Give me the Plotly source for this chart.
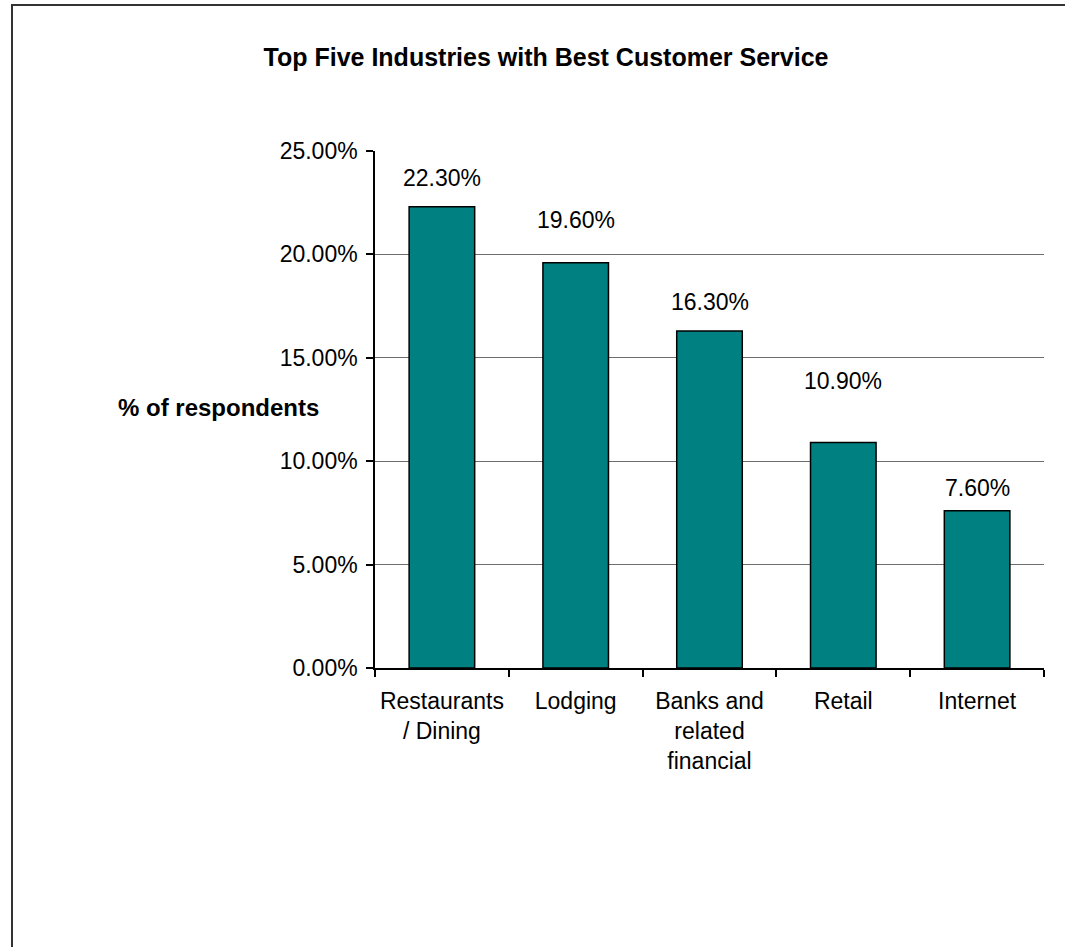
import plotly.graph_objects as go

categories = ["Restaurants<br>/ Dining", "Lodging", "Banks and<br>related<br>financial", "Retail", "Internet"]
share = [0.223, 0.196, 0.163, 0.109, 0.076]

# vertical offset (px) of each value label above its bar
label_lift = [14, 28, 14, 47, 8]

W, H = 1065, 947
L, R, T, B = 375, 1044, 151, 668  # plot-area pixel edges

FAMILY = "Liberation Sans, Arial, sans-serif"
font = dict(family=FAMILY, size=23, color="#000000")

fig = go.Figure(
    go.Bar(
        x=categories,
        y=share,
        width=0.49,
        marker=dict(color="#008080", line=dict(color="#000000", width=1.5)),
        cliponaxis=False,
    )
)

# value labels above each bar
for cat, val, lift in zip(categories, share, label_lift):
    fig.add_annotation(
        x=cat, y=val,
        text=f"{val * 100:.2f}%",
        xref="x", yref="y",
        xanchor="center", yanchor="bottom",
        yshift=lift,
        showarrow=False,
        font=font,
    )

fig.update_layout(
    width=W,
    height=H,
    margin=dict(l=L, r=W - R, t=T, b=H - B, pad=0),
    paper_bgcolor="white",
    plot_bgcolor="white",
    showlegend=False,
    font=font,
    bargap=0.51,
    title=dict(
        text="<b>Top Five Industries with Best Customer Service</b>",
        x=546 / W,
        xanchor="center",
        y=1 - 57 / H,
        yanchor="middle",
        font=dict(family=FAMILY, size=25, color="#000000"),
    ),
)

fig.update_xaxes(
    type="category",
    showline=True,
    linecolor="#000000",
    linewidth=1.5,
    ticks="outside",
    tickson="boundaries",
    ticklen=7,
    tickcolor="#000000",
    tickwidth=1.5,
    ticklabelstandoff=12,
    showgrid=False,
    tickfont=font,
)

fig.update_yaxes(
    range=[0, 0.25],
    dtick=0.05,
    tickformat=".2%",
    showline=True,
    linecolor="#000000",
    linewidth=1.5,
    ticks="outside",
    ticklen=7,
    tickcolor="#000000",
    tickwidth=1.5,
    ticklabelstandoff=4,
    showgrid=True,
    gridcolor="#6e6e6e",
    gridwidth=1,
    zeroline=False,
    tickfont=font,
)

# y-axis caption, placed horizontally to the left of the tick labels
fig.add_annotation(
    text="<b>% of respondents</b>",
    xref="paper", yref="paper",
    x=(218 - L) / (R - L), y=(B - 407) / (B - T),
    xanchor="center", yanchor="middle",
    showarrow=False,
    font=dict(family=FAMILY, size=24, color="#000000"),
)

# outer chart frame
fig.add_shape(
    type="rect",
    xref="paper", yref="paper",
    x0=(12 - L) / (R - L), x1=(1075 - L) / (R - L),
    y0=(B - 960) / (B - T), y1=(B - 5) / (B - T),
    line=dict(color="#333333", width=2),
    layer="below",
)

fig.write_html("out.html")
